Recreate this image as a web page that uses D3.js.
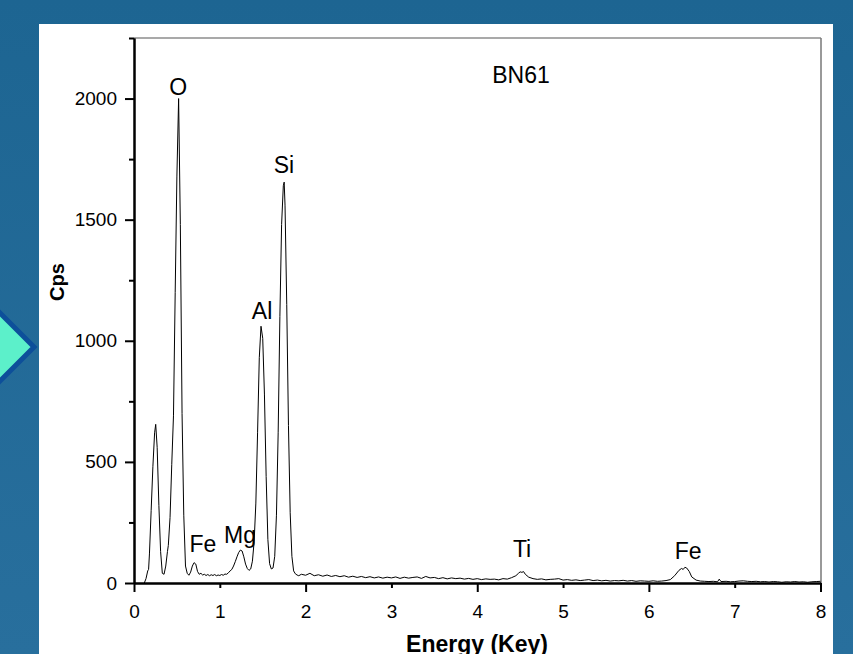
<!DOCTYPE html>
<html>
<head>
<meta charset="utf-8">
<script src="https://cdn.jsdelivr.net/npm/d3@7"></script>
<style>
  body { margin: 0; overflow: hidden; }
  text { font-family: "Liberation Sans", Arial, sans-serif; }
</style>
</head>
<body>
<svg id="mysvg" width="853" height="654"></svg>
<script>
// spectrum (keV, counts per second)
const energy = [
  0.12,0.14,0.16,0.17,0.18,0.20,0.22,0.24,0.253,0.27,0.29,0.31,0.33,0.35,0.37,0.39,0.40,0.42,0.44,0.46,
  0.48,0.50,0.52,0.54,0.56,0.58,0.60,0.62,0.64,0.66,0.68,0.70,0.72,0.74,0.76,0.78,0.80,0.82,0.84,0.86,
  0.88,0.90,0.92,0.94,0.96,0.98,1.00,1.02,1.04,1.06,1.08,1.10,1.12,1.14,1.16,1.18,1.20,1.22,1.24,1.26,
  1.28,1.30,1.32,1.34,1.36,1.38,1.40,1.42,1.44,1.46,1.48,1.50,1.52,1.54,1.56,1.58,1.60,1.62,1.64,1.66,
  1.68,1.70,1.72,1.74,1.75,1.76,1.78,1.80,1.82,1.84,1.86,1.88,1.90,1.92,1.95,2.00,2.05,2.10,2.15,2.20,
  2.25,2.30,2.35,2.40,2.45,2.50,2.55,2.60,2.65,2.70,2.75,2.80,2.85,2.90,2.95,3.00,3.05,3.10,3.15,3.20,
  3.25,3.30,3.35,3.40,3.45,3.50,3.55,3.60,3.65,3.70,3.75,3.80,3.85,3.90,3.95,4.00,4.05,4.10,4.15,4.20,
  4.25,4.30,4.35,4.40,4.45,4.48,4.50,4.52,4.54,4.56,4.60,4.65,4.70,4.75,4.80,4.85,4.90,4.95,5.00,5.05,
  5.10,5.15,5.20,5.25,5.30,5.35,5.40,5.45,5.50,5.55,5.60,5.65,5.70,5.75,5.80,5.85,5.90,5.95,6.00,6.05,
  6.10,6.15,6.20,6.25,6.30,6.35,6.38,6.40,6.42,6.44,6.47,6.50,6.55,6.60,6.65,6.70,6.75,6.80,6.82,6.84,
  6.90,6.95,7.00,7.05,7.10,7.15,7.20,7.25,7.30,7.35,7.40,7.45,7.50,7.55,7.60,7.65,7.70,7.75,7.80,7.85,
  7.90,7.95,8.00
]
const cps = [
  0,18,50,56,120,300,480,620,655,560,320,130,40,36,70,130,155,270,490,690,
  1200,1680,2000,1480,700,280,70,40,32,45,70,84,78,48,36,40,33,36,31,35,
  30,34,31,35,30,33,31,35,32,37,36,42,50,56,70,88,108,126,136,132,
  108,78,60,52,58,90,170,330,620,930,1060,1010,780,440,180,80,58,62,110,280,
  620,1100,1480,1640,1655,1560,1150,650,290,110,50,38,33,30,36,32,40,30,34,28,
  33,27,31,26,30,24,28,23,27,22,26,21,25,20,24,21,25,19,24,20,
  23,25,19,27,21,23,18,22,17,21,18,20,16,19,15,18,14,17,15,16,
  13,18,16,22,30,40,46,44,47,36,24,18,15,17,13,15,16,18,12,14,
  11,13,10,12,14,10,12,9,11,8,10,9,11,8,10,7,9,8,7,9,
  7,8,10,14,30,52,60,56,65,62,48,25,12,8,7,6,7,5,16,6,
  7,5,6,8,9,7,6,7,5,6,4,6,5,3,5,4,6,4,5,3,
  5,6,7
]

// element labels, placed in data units
const labelText = ["O", "Si", "Al", "Fe", "Mg", "Ti", "Fe", "BN61"]
const labelEnergy = [0.516, 1.748, 1.492, 0.804, 1.235, 4.522, 6.457, 4.51]
const labelCps = [2015, 1693, 1090, 128, 165, 107, 99, 2064]

const xMajor = [0, 2, 4, 6, 8]
const xMinor = [1, 3, 5, 7]
const yMajor = [0, 500, 1000, 1500, 2000]
const yMinor = [250, 750, 1250, 1750, 2250]

const svg = d3.select('#mysvg')

// background + white panel
const grad = svg.append('defs').append('linearGradient').attr('id', 'bg')
  .attr('x1', 0).attr('y1', 0).attr('x2', 0).attr('y2', 1)
grad.append('stop').attr('offset', '0%').attr('stop-color', '#1d6592')
grad.append('stop').attr('offset', '100%').attr('stop-color', '#286f9d')
svg.append('rect').attr('width', 853).attr('height', 654).attr('fill', 'url(#bg)')
svg.append('rect').attr('x', 39).attr('y', 24).attr('width', 794).attr('height', 640).attr('fill', '#fff')

// arrow bullet on the left
svg.append('polygon').attr('points', '-34,347 0,313 34,347 0,381')
  .attr('fill', '#5cf0ca').attr('stroke', '#0d4f9a').attr('stroke-width', 5)

let xScale = d3.scaleLinear().domain([0, 8]).range([134, 820.5])
let yScale = d3.scaleLinear().domain([0, 2250]).range([583, 38])

// frame top/right
svg.append('line').attr('x1', 134).attr('x2', 821).attr('y1', 38).attr('y2', 38)
  .attr('stroke', '#555').attr('stroke-width', 1.2)
svg.append('line').attr('x1', 821).attr('x2', 821).attr('y1', 38).attr('y2', 583)
  .attr('stroke', '#777').attr('stroke-width', 1.5)

// spectrum line
let pts = energy.map((e, i) => [e, cps[i]])
let lineGenerator = d3.line().x(d => xScale(d[0])).y(d => yScale(d[1]))
svg.append('path').attr('d', lineGenerator(pts))
  .attr('fill', 'none').attr('stroke', '#000').attr('stroke-width', 1)

// axes
function styleAxis(g) {
  g.select('.domain').attr('stroke', '#000').attr('stroke-width', 2)
  g.selectAll('.tick line').attr('stroke', '#000').attr('stroke-width', 2)
  g.selectAll('.tick text').attr('fill', '#000').style('font-size', '19px')
    .style('font-family', '"Liberation Sans", Arial, sans-serif')
}
svg.append('g').attr('transform', 'translate(0,583)')
  .call(d3.axisBottom(xScale).tickValues(xMinor).tickSize(5).tickPadding(16.5).tickSizeOuter(0))
  .call(styleAxis)
svg.append('g').attr('transform', 'translate(0,583)')
  .call(d3.axisBottom(xScale).tickValues(xMajor).tickSize(9).tickPadding(12.5).tickSizeOuter(0))
  .call(styleAxis)
svg.append('g').attr('transform', 'translate(134,0)')
  .call(d3.axisLeft(yScale).tickValues(yMinor).tickSize(5).tickFormat('').tickSizeOuter(0))
  .call(styleAxis)
svg.append('g').attr('transform', 'translate(134,0)')
  .call(d3.axisLeft(yScale).tickValues(yMajor).tickSize(9).tickPadding(8).tickSizeOuter(0).tickFormat(d3.format('d')))
  .call(styleAxis)

// axis titles
svg.append('text').attr('transform', 'translate(64,282) rotate(-90)')
  .attr('text-anchor', 'middle').style('font-size', '20px').style('font-weight', 'bold')
  .text('Cps')
svg.append('text').attr('x', 477).attr('y', 652)
  .attr('text-anchor', 'middle').style('font-size', '23px').style('font-weight', 'bold')
  .text('Energy (Key)')

// peak labels
svg.selectAll('.peak').data(labelText).join('text').attr('class', 'peak')
  .attr('x', (d, i) => xScale(labelEnergy[i]))
  .attr('y', (d, i) => yScale(labelCps[i]))
  .attr('text-anchor', 'middle').style('font-size', '23px').attr('fill', '#000')
  .text(d => d)
</script>
</body>
</html>
